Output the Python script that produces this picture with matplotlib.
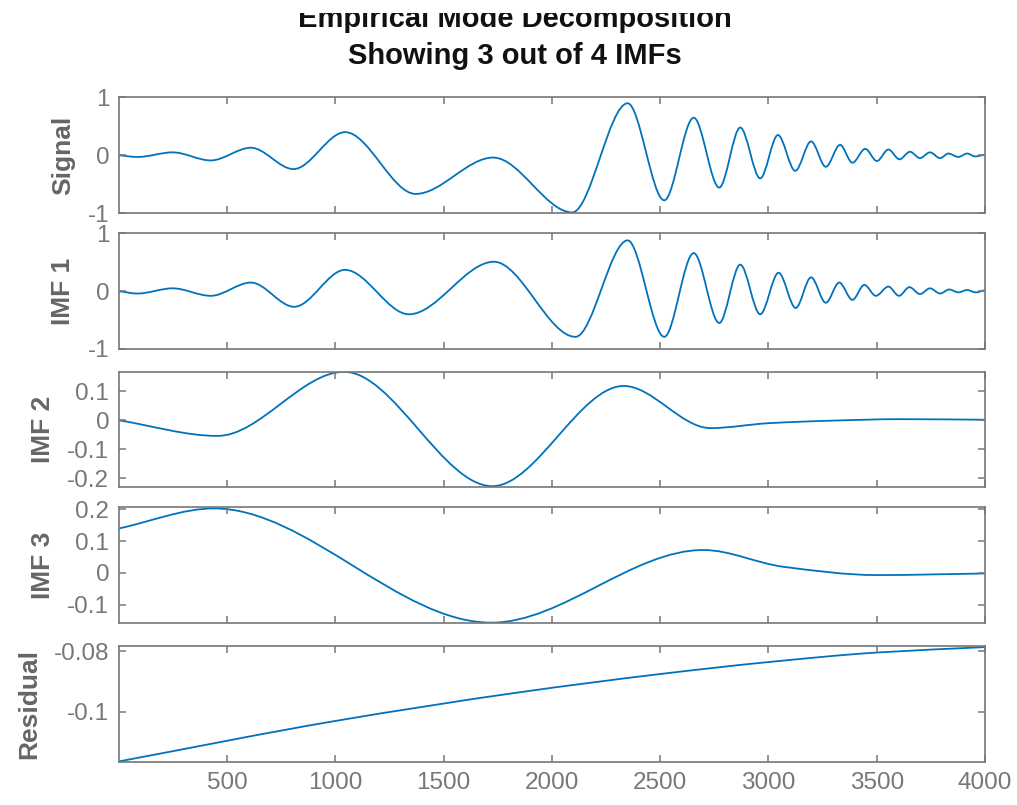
import numpy as np
import matplotlib
matplotlib.use("Agg")
import matplotlib.pyplot as plt
from matplotlib.path import Path
from matplotlib.patches import PathPatch
from matplotlib.transforms import Bbox, TransformedBbox

# values (sample index, amplitude) at turning points
signal_x = [1, 87, 249, 425, 610, 807, 1045, 1371, 1729, 2094, 2350, 2519, 2655, 2773,
            2870, 2962, 3044, 3124, 3197, 3265, 3331, 3388, 3447, 3501, 3554, 3605,
            3654, 3700, 3746, 3793, 3831, 3877, 3918, 3954, 4000]
signal_y = [0.0, -0.03, 0.05, -0.09, 0.13, -0.24, 0.40, -0.67, -0.04, -0.99, 0.90, -0.78,
            0.65, -0.56, 0.48, -0.40, 0.35, -0.27, 0.24, -0.20, 0.18, -0.13, 0.11, -0.10,
            0.10, -0.07, 0.06, -0.05, 0.05, -0.05, 0.03, -0.03, 0.03, -0.02, 0.01]

imf1_x = [1, 87, 249, 425, 610, 810, 1045, 1340, 1732, 2109, 2350, 2519, 2655, 2773,
          2870, 2962, 3047, 3126, 3197, 3265, 3327, 3388, 3443, 3496, 3554, 3603,
          3651, 3700, 3746, 3793, 3835, 3877, 3918, 3958, 4000]
imf1_y = [0.0, -0.04, 0.05, -0.08, 0.15, -0.27, 0.37, -0.40, 0.51, -0.79, 0.88, -0.79,
          0.66, -0.55, 0.46, -0.40, 0.32, -0.29, 0.24, -0.20, 0.15, -0.15, 0.11, -0.08,
          0.08, -0.08, 0.07, -0.05, 0.05, -0.04, 0.03, -0.02, 0.02, -0.02, 0.02]

imf2_x = [1, 456, 1040, 1725, 2332, 2732, 3000, 3300, 3608, 4000]
imf2_y = [0.0, -0.054, 0.168, -0.228, 0.119, -0.027, -0.010, -0.001, 0.004, 0.002]

imf3_x = [1, 440, 1720, 2700, 3070, 3500, 4000]
imf3_y = [0.140, 0.203, -0.157, 0.072, 0.019, -0.007, -0.002]

resid_x = [1, 994, 1855, 2501, 2993, 3500, 4000]
resid_y = [-0.1164, -0.1031, -0.0935, -0.0875, -0.0836, -0.0804, -0.0786]

panel_labels = ["Signal", "IMF 1", "IMF 2", "IMF 3", "Residual"]
panel_ylims = [(-1, 1), (-1, 1), (-0.231, 0.169), (-0.158, 0.206), (-0.1166, -0.0784)]
panel_yticks = [[-1, 0, 1], [-1, 0, 1], [-0.2, -0.1, 0, 0.1], [-0.1, 0, 0.1, 0.2], [-0.1, -0.08]]
xticks = [500, 1000, 1500, 2000, 2500, 3000, 3500, 4000]


def smooth_path(xs, ys):
    # monotone cubic tangents turned into bezier segments, so peaks stay flat
    xs = np.asarray(xs, float)
    ys = np.asarray(ys, float)
    h = np.diff(xs)
    d = np.diff(ys) / h
    m = np.zeros_like(ys)
    m[0] = d[0]
    m[-1] = d[-1]
    for k in range(1, len(xs) - 1):
        if d[k - 1] * d[k] <= 0:
            m[k] = 0.0
        else:
            w1 = 2 * h[k] + h[k - 1]
            w2 = h[k] + 2 * h[k - 1]
            m[k] = (w1 + w2) / (w1 / d[k - 1] + w2 / d[k])
    verts = [(xs[0], ys[0])]
    codes = [Path.MOVETO]
    for k in range(len(h)):
        verts.append((xs[k] + h[k] / 3, ys[k] + m[k] * h[k] / 3))
        verts.append((xs[k + 1] - h[k] / 3, ys[k + 1] - m[k + 1] * h[k] / 3))
        verts.append((xs[k + 1], ys[k + 1]))
        codes += [Path.CURVE4] * 3
    return Path(verts, codes)


plt.rcParams['font.family'] = ['Liberation Sans', 'DejaVu Sans']
plt.rcParams['axes.unicode_minus'] = False

gray = '#777777'
line_color = '#0072BD'

series = [(signal_x, signal_y), (imf1_x, imf1_y), (imf2_x, imf2_y),
          (imf3_x, imf3_y), (resid_x, resid_y)]
bottoms = [0.7354, 0.5665, 0.3950, 0.2261, 0.0534]

fig = plt.figure(figsize=(10.17, 8.05), dpi=100)
axes = []
for i, (xs, ys) in enumerate(series):
    ax = fig.add_axes([0.117, bottoms[i], 0.8515, 0.1435])
    ax.add_patch(PathPatch(smooth_path(xs, ys), fill=False, edgecolor=line_color, lw=1.3))
    ax.set_xlim(1, 4000)
    ax.set_ylim(*panel_ylims[i])
    ax.set_xticks(xticks)
    ax.set_yticks(panel_yticks[i])
    ax.set_yticklabels(['%g' % v for v in panel_yticks[i]])
    if i < len(series) - 1:
        ax.set_xticklabels([])
    ax.tick_params(direction='in', top=True, right=True, length=5, width=1.1,
                   colors=gray, labelsize=17.5, pad=7)
    for s in ax.spines.values():
        s.set_color(gray)
        s.set_linewidth(1.2)
    ax.set_ylabel(panel_labels[i], fontsize=19, fontweight='bold', color='#666666', labelpad=9)
    axes.append(ax)

title = axes[0].set_title("Empirical Mode Decomposition\nShowing 3 out of 4 IMFs",
                          fontsize=21, fontweight='bold', color='#111111', pad=24,
                          linespacing=1.4)
title.set_x(0.457)
# the first title line is cut off at the top in the original
title.set_clip_box(TransformedBbox(Bbox([[0, 0], [1, 1 - 13 / 805]]), fig.transFigure))
title.set_clip_on(True)

fig.savefig("out.png", dpi=100)
